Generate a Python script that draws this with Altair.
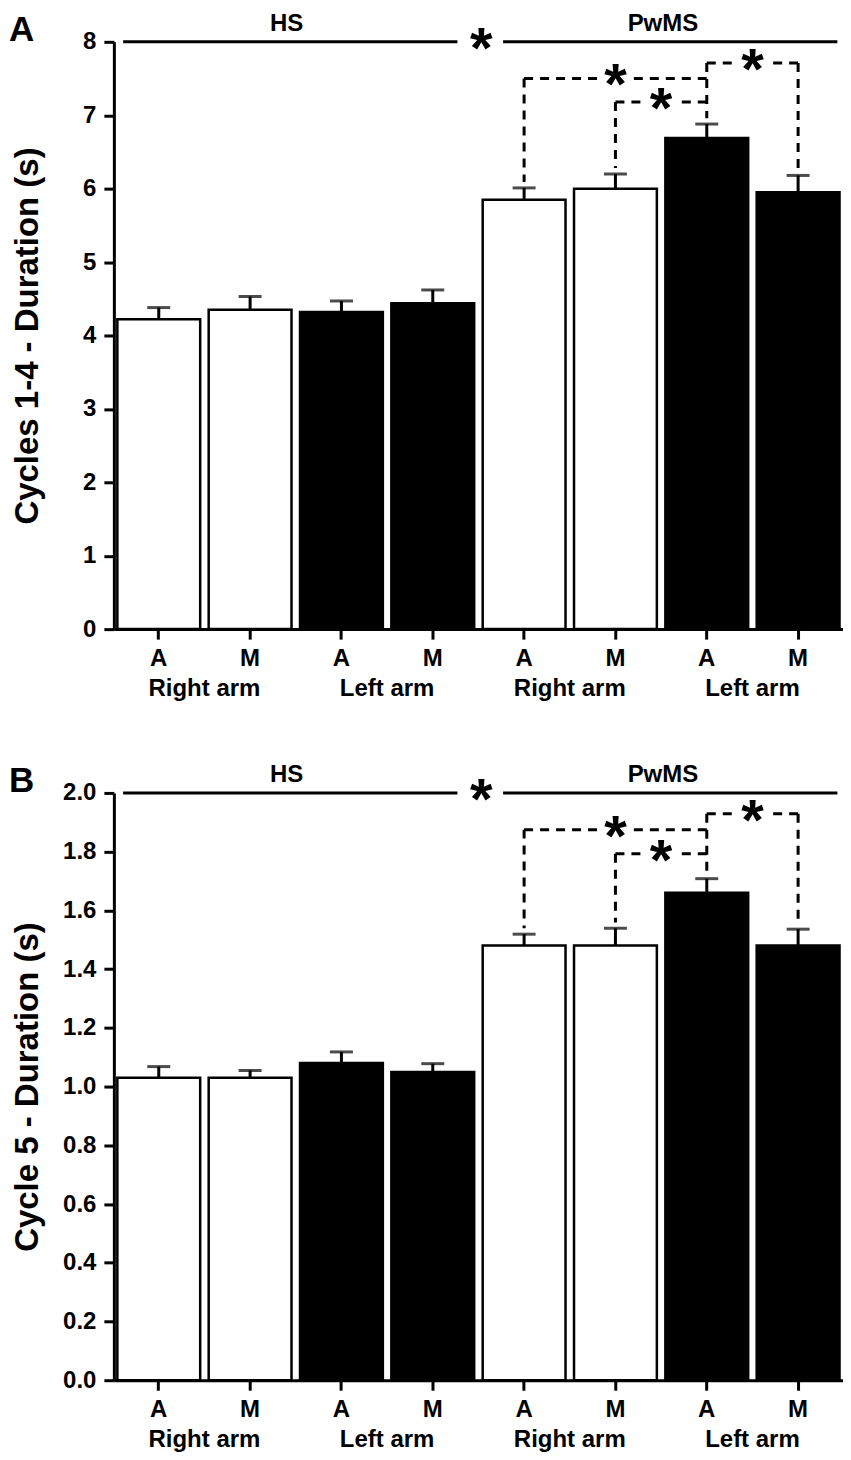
import altair as alt
import pandas as pd

# ---------------- data ----------------
bar_ids = ["HS|Right arm|A", "HS|Right arm|M", "HS|Left arm|A", "HS|Left arm|M",
           "PwMS|Right arm|A", "PwMS|Right arm|M", "PwMS|Left arm|A", "PwMS|Left arm|M"]
bar_arm = ["Right", "Right", "Left", "Left", "Right", "Right", "Left", "Left"]

mean_A = [4.22, 4.35, 4.32, 4.44, 5.85, 6.00, 6.69, 5.95]
err_A = [4.38, 4.53, 4.47, 4.62, 6.01, 6.20, 6.88, 6.18]
mean_B = [1.03, 1.03, 1.08, 1.05, 1.48, 1.48, 1.66, 1.48]
err_B = [1.068, 1.055, 1.118, 1.078, 1.519, 1.539, 1.708, 1.536]

group_names = ["HS", "PwMS"]
group_pos = [1.4, 5.52]
arm_names = ["Right arm", "Left arm", "Right arm", "Left arm"]
arm_pos = [0.5, 2.5, 4.5, 6.5]

top_line_segments = [(-0.39, 3.27), (3.77, 7.43)]
top_star_pos = 3.53

brackets_A = [(4, 6, 7.50), (5, 6, 7.18), (6, 7, 7.71)]
brackets_B = [(4, 6, 1.875), (5, 6, 1.793), (6, 7, 1.929)]

# ---------------- layout ----------------
W, H = 730, 588
PI, PO = 0.093, 0.038
HALF = PO + (1 - PI) / 2
FONT = "Liberation Sans"
STAR_FS = 58


def panel(letter, mean, err, ymax, yvals, yfmt, ytitle, brackets, leg_gap):
    df = pd.DataFrame({"id": bar_ids, "arm": bar_arm, "mean": mean, "err": err})
    yscale = alt.Scale(domain=[0, ymax], nice=False, zero=True)
    yaxis = alt.Axis(values=yvals, format=yfmt, title=ytitle, grid=False)
    xscale = alt.Scale(domain=bar_ids, paddingInner=PI, paddingOuter=PO)
    xaxis = alt.Axis(title=None, labelExpr="split(datum.value, '|')[2]", labelAngle=0)

    bars = alt.Chart(df).mark_bar(stroke="black", strokeWidth=2.5).encode(
        x=alt.X("id:N", scale=xscale, axis=xaxis, sort=None),
        y=alt.Y("mean:Q", scale=yscale, axis=yaxis),
        fill=alt.Fill("arm:N", scale=alt.Scale(domain=["Right", "Left"], range=["white", "black"]), legend=None),
    )
    ebar = alt.Chart(df).mark_rule(color="black", strokeWidth=3).encode(
        x=alt.X("id:N", scale=xscale, axis=xaxis, sort=None),
        y=alt.Y("mean:Q", scale=yscale, axis=yaxis),
        y2="err:Q",
    )
    caps = alt.Chart(df).mark_tick(color="black", size=23, thickness=3).encode(
        x=alt.X("id:N", scale=xscale, axis=xaxis, sort=None),
        y=alt.Y("err:Q", scale=yscale, axis=yaxis),
    )
    band_layer = alt.layer(bars, ebar, caps)

    lscale = alt.Scale(domain=[-HALF, 7 + HALF], nice=False, zero=False)

    # solid group line
    top = pd.DataFrame({"xa": [s[0] for s in top_line_segments],
                        "xb": [s[1] for s in top_line_segments],
                        "ya": [ymax] * len(top_line_segments)})
    top_rule = alt.Chart(top).mark_rule(color="black", strokeWidth=3).encode(
        x=alt.X("xa:Q", scale=lscale, axis=None), x2="xb:Q",
        y=alt.Y("ya:Q", scale=yscale, axis=yaxis),
    )

    # dashed brackets
    g = 0.16
    segs = []
    legs = {}
    stars = [{"xa": top_star_pos, "ya": ymax}]
    for i, j, lvl in brackets:
        mid = (i + j) / 2
        segs.append({"xa": i, "xb": mid - g, "ya": lvl, "yb": lvl})
        segs.append({"xa": j, "xb": mid + g, "ya": lvl, "yb": lvl})
        legs[i] = max(legs.get(i, 0), lvl)
        legs[j] = max(legs.get(j, 0), lvl)
        stars.append({"xa": mid, "ya": lvl})
    for k, lvl in legs.items():
        segs.append({"xa": k, "xb": k, "ya": lvl, "yb": err[k] + leg_gap})
    dash = alt.Chart(pd.DataFrame(segs)).mark_rule(color="black", strokeWidth=3, strokeDash=[9, 7]).encode(
        x=alt.X("xa:Q", scale=lscale, axis=None), x2="xb:Q",
        y=alt.Y("ya:Q", scale=yscale, axis=yaxis), y2="yb:Q",
    )
    star_txt = alt.Chart(pd.DataFrame(stars)).mark_text(
        text="*", font=FONT, fontWeight="bold", fontSize=STAR_FS, baseline="middle", align="center",
        dy=9, color="black"
    ).encode(
        x=alt.X("xa:Q", scale=lscale, axis=None),
        y=alt.Y("ya:Q", scale=yscale, axis=yaxis),
    )
    grp = alt.Chart(pd.DataFrame({"name": group_names, "pos": group_pos})).mark_text(
        font=FONT, fontWeight="bold", fontSize=24, baseline="alphabetic", align="center", color="black"
    ).encode(
        x=alt.X("pos:Q", scale=lscale, axis=None), y=alt.value(-11), text="name:N"
    )
    arms = alt.Chart(pd.DataFrame({"name": arm_names, "pos": arm_pos})).mark_text(
        font=FONT, fontWeight="bold", fontSize=24, baseline="alphabetic", align="center", color="black"
    ).encode(
        x=alt.X("pos:Q", scale=lscale, axis=None), y=alt.value(H + 67), text="name:N"
    )
    ann_layer = alt.layer(top_rule, dash, star_txt, grp, arms)

    let = alt.Chart(pd.DataFrame({"t": [letter]})).mark_text(
        font=FONT, fontWeight="bold", fontSize=35, baseline="alphabetic", align="left", color="black"
    ).encode(x=alt.value(-105), y=alt.value(-1), text="t:N")

    return alt.layer(band_layer, ann_layer, let).resolve_scale(x="independent").properties(width=W, height=H)


pA = panel("A", mean_A, err_A, 8, [0, 1, 2, 3, 4, 5, 6, 7, 8], "d",
           "Cycles 1-4 - Duration (s)", brackets_A, 0.08)
pB = panel("B", mean_B, err_B, 2.0, [0, 0.2, 0.4, 0.6, 0.8, 1.0, 1.2, 1.4, 1.6, 1.8, 2.0], ".1f",
           "Cycle 5 - Duration (s)", brackets_B, 0.02)

chart = alt.vconcat(
    pA, pB, spacing=62, padding={"left": 1, "top": 3, "right": 0, "bottom": 0}
).configure_view(strokeWidth=0).configure_axis(
    domainColor="black", domainWidth=3, tickColor="black", tickWidth=3, tickSize=10,
    labelFont=FONT, labelFontSize=24, labelFontWeight="bold", labelColor="black",
    titleFont=FONT, titleFontWeight="bold", titleColor="black",
).configure_axisY(
    labelPadding=8, minExtent=58, maxExtent=58, titleFontSize=33, titlePadding=11
).configure_axisX(
    labelPadding=7
)

chart.save("out.html", embed_options={"renderer": "svg", "actions": False})
